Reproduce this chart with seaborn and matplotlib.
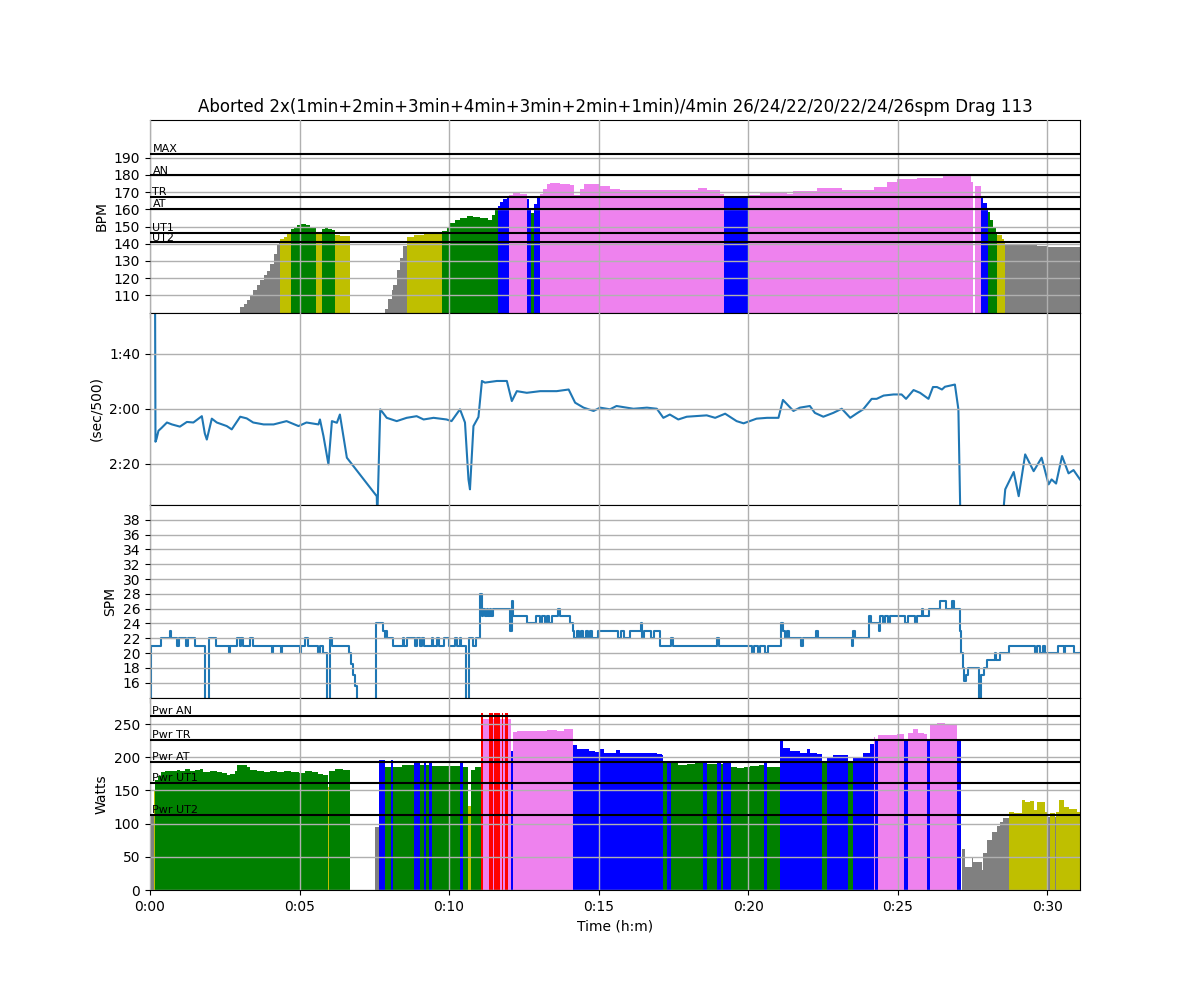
import numpy as np
import matplotlib
matplotlib.use('Agg')
import matplotlib.pyplot as plt
from matplotlib.ticker import FuncFormatter, MultipleLocator
import seaborn as sns

title = "Aborted 2x(1min+2min+3min+4min+3min+2min+1min)/4min 26/24/22/20/22/24/26spm Drag 113"
t_end = 1866

# zone thresholds
hr_zone_names = ['UT2', 'UT1', 'AT', 'TR', 'AN', 'MAX']
hr_zone_values = [141.0, 146.4, 160.3, 167.3, 180.0, 192.5]
pw_zone_names = ['Pwr UT2', 'Pwr UT1', 'Pwr AT', 'Pwr TR', 'Pwr AN']
pw_zone_values = [113.4, 161.7, 193.3, 226.4, 262.6]
zone_colors = ['gray', 'y', 'g', 'b', 'violet', 'r']

nan = float('nan')

# heart rate (time s, bpm)
hr_t = [0, 171, 180, 188, 194, 201, 207, 214, 221, 228, 234, 241, 248, 254, 258, 260, 268, 275,
        282, 288, 294, 301, 314, 321, 328, 333, 345, 352, 358, 365, 371, 381, 401,
        472, 478, 485, 488, 495, 501, 508, 515, 529, 549, 569, 585, 595, 602, 612, 622, 636,
        649, 662, 676, 679, 686, 692, 698, 702, 709, 716, 721, 729, 743, 756, 760, 764, 771,
        776, 783, 789, 796, 803, 823, 843, 850, 856, 862, 870, 897, 903, 923, 943, 963, 983,
        1003, 1064, 1100, 1117, 1144, 1152, 1199, 1224, 1278, 1291, 1338, 1388, 1452, 1478,
        1498, 1539, 1592, 1647, 1652, 1656, 1668, 1672, 1679, 1681, 1686, 1692, 1698, 1700,
        1709, 1714, 1716, 1733, 1779, 1799]
hr_v = [95, 100, 103, 105, 107, 110, 113, 116, 119, 122, 124, 128, 134, 139, 140.5, 142.5, 144, 145.5,
        148.5, 150, 151, 151.5, 151, 149.5, 149, 145.5, 148.5, 149, 148.5, 148, 145, 144.5, nan,
        102, 108, 113, 116, 125, 132, 138.5, 144, 145, 145.5, 145.5, 147.5, 150, 152, 154, 155, 156,
        155.5, 155, 155, 154, 157, 159.5, 162, 164.5, 166, 167, 168.5, 169.5, 169, 166, 161, 158, 163,
        166.5, 169, 172, 174.5, 175.5, 175, 174, 168.5, 168.3, 172, 174.8, 174.8, 173.5, 172, 171, 171.5, 171,
        171, 171, 172.2, 171, 168.9, 167, 168.5, 169.8, 169, 170.8, 172.2, 171.2, 173.3, 176,
        177.6, 178.5, 179.5, 176, nan, 173.5, 166.4, 163.5, 160.6, 158.7, 153.8, 150, 147, 145,
        143, 141.5, 139.8, 139.3, 138.7, 138.1]

# pace (time s, sec/500m)
pace_t = [10, 11, 13, 17, 23, 34, 44, 60, 74, 87, 104, 110, 114, 124, 134, 154, 164, 181, 194, 207,
          228, 248, 274, 298, 314, 338, 341, 348, 358, 365, 375, 381, 395, 455, 456, 462, 475, 495,
          515, 535, 549, 569, 595, 605, 622, 632, 639, 642, 649, 659, 666, 672, 696, 716, 726, 736,
          756, 783, 816, 840, 853, 870, 890, 903, 923, 936, 970, 997, 1017, 1030, 1043, 1060, 1077,
          1117, 1134, 1154, 1177, 1191, 1217, 1238, 1261, 1270, 1291, 1304, 1324, 1334, 1351, 1371,
          1388, 1405, 1418, 1431, 1448, 1458, 1472, 1492, 1508, 1517, 1532, 1545, 1562, 1571, 1579,
          1589, 1595, 1615, 1622, 1627, 1706, 1716, 1733, 1743, 1756, 1773, 1789, 1803, 1809, 1818,
          1830, 1843, 1853, 1866]
pace_v = [70, 132, 131, 128, 127, 125, 125.7, 126.5, 124.8, 125, 122.7, 129, 131.2, 123.6, 125, 126.3, 127.5, 122.9, 123.5, 125,
          125.7, 125.7, 124.5, 126.3, 125, 125.7, 123.9, 129.9, 140.2, 124.5, 125.1, 122.1, 137.8, 151.8, 160, 120.2, 123.3, 124.5,
          123.3, 122.7, 123.9, 123.3, 123.9, 124.5, 120.2, 125, 145.7, 149.3, 126.3, 123, 109.9, 110.5, 109.9, 109.9, 117.2, 113.6,
          114.2, 113.6, 113.6, 113, 117.8, 119.6, 120.8, 119.6, 120.2, 119, 120, 119.6, 120, 123.3, 122.1, 123.9, 122.9,
          122.4, 123.3, 121.8, 124.5, 125.3, 123.6, 123.3, 123.3, 116.8, 120.8, 119.6, 119, 121.5, 122.9, 121.5,
          120, 123.3, 121.7, 120.2, 116.4, 116.4, 115.2, 114.8, 114.8, 116.4, 113.2, 114.2, 116.4, 112.1, 112.1,
          113, 112, 111.2, 120.2, 170, 170, 149.3, 143, 151.8, 136.6, 142.7, 137.8, 147.5, 145.7, 147.2,
          137.2, 143.5, 142.3, 145.7]

# stroke rate (time s, spm)
spm_t = [0, 3, 23, 40, 43, 54, 59, 73, 77, 90, 111, 118, 132, 158, 160, 174, 180, 183, 186, 200, 206,
         244, 247, 262, 265, 300, 302, 311, 318, 338, 341, 348, 355, 361, 365, 395, 399, 403, 407, 411, 415,
         454, 467, 471, 473, 476, 487, 507, 510, 515, 532, 535, 542, 545, 549, 565, 568, 575, 580, 589,
         600, 612, 615, 621, 625, 634, 641, 648, 655, 663, 666, 669, 673, 676, 679, 682, 685, 688, 723,
         726, 729, 757, 775, 783, 786, 793, 796, 801, 806, 819, 822, 843, 848, 851, 856, 860, 865, 868,
         875, 879, 883, 887, 898, 940, 946, 951, 963, 986, 988, 991, 1006, 1012, 1023, 1046, 1050, 1137,
         1141, 1207, 1211, 1219, 1224, 1233, 1240, 1266, 1270, 1274, 1278, 1282, 1306, 1310, 1336, 1340,
         1408, 1410, 1414, 1443, 1446, 1462, 1465, 1470, 1474, 1480, 1485, 1515, 1520, 1534, 1538, 1548,
         1551, 1563, 1586, 1598, 1609, 1613, 1622, 1625, 1628, 1631, 1634, 1638, 1641, 1664, 1668, 1673,
         1679, 1696, 1698, 1705, 1724, 1775, 1779, 1785, 1792, 1796, 1821, 1833, 1836, 1854, 1866]
spm_v = [10, 21, 22, 23, 22, 21, 22, 21, 22, 21, 12, 22, 21, 20, 21, 22, 21, 22, 21, 22, 21,
         20, 21, 20, 21, 20, 21, 22, 21, 20, 21, 20, 12, 22, 21, 21, 20, 18.5, 17, 15.5, 12,
         24, 23, 22, 23, 22, 21, 22, 21, 22, 21, 22, 21, 22, 21, 22, 21, 22, 21, 22,
         21, 22, 21, 22, 21, 12, 22, 21, 22, 28, 25, 26, 25, 26, 25, 26, 25, 26, 23,
         27, 25, 24, 25, 24, 25, 24, 25, 24, 25, 26, 25, 24, 23, 22, 23, 22, 23, 22,
         23, 22, 23, 22, 23, 22, 23, 22, 23, 24, 22, 23, 22, 23, 21, 22, 21, 22,
         21, 20, 21, 20, 21, 20, 21, 24, 23, 22, 23, 22, 21, 22, 23, 22,
         21, 23, 22, 25, 24, 23, 25, 24, 25, 24, 25, 24, 25, 24, 25, 26,
         25, 26, 27, 26, 27, 26, 26, 23, 20, 18, 16.2, 17, 18, 12, 17, 18,
         19, 20, 19, 20, 21, 20, 21, 20, 21, 20, 21, 20, 21, 20, 20]

# power (time s, watts)
pw_t = [0, 8, 11, 17, 23, 30, 40, 54, 60, 70, 80, 90, 100, 107, 120, 134, 144, 154, 161, 171, 174,
        194, 201, 214, 228, 241, 254, 268, 282, 298, 311, 325, 338, 348, 358, 360, 371, 388, 401,
        452, 460, 472, 483, 488, 505, 529, 541, 550, 554, 559, 566, 599, 602, 622, 628, 639, 644, 653,
        664, 669, 681, 688, 690, 696, 697, 702, 706, 709, 713, 719, 724, 729, 736, 756, 776, 796, 816,
        830, 848, 856, 866, 880, 893, 903, 910, 936, 943, 963, 983, 1003, 1017, 1027, 1030, 1037, 1046,
        1060, 1077, 1094, 1110, 1117, 1137, 1145, 1149, 1165, 1177, 1191, 1204, 1221, 1231, 1238, 1264,
        1271, 1284, 1304, 1318, 1324, 1338, 1348, 1359, 1371, 1388, 1401, 1411, 1431, 1444, 1452, 1455,
        1460, 1480, 1498, 1512, 1520, 1530, 1540, 1552, 1559, 1565, 1580, 1595, 1620, 1627, 1629, 1636,
        1649, 1652, 1669, 1672, 1679, 1689, 1699, 1706, 1712, 1724, 1733, 1743, 1749, 1756, 1766, 1773,
        1779, 1796, 1799, 1805, 1816, 1818, 1823, 1833, 1843, 1860]
pw_v = [113, 150, 166, 172, 178, 179, 180, 181, 179, 182, 180, 181, 183, 178, 179, 178, 176, 174, 175.5, 179, 188,
        186, 181, 179, 178, 179, 178, 180, 178, 176, 180, 178, 175, 174, 155, 179, 182, 181, nan,
        95, 196, 186, 196, 186, 188, 195, 188, 195, 188, 195, 187, 195, 187, 195, 186, 126, 181, 185,
        266, 258, 267, 258, 267, 258, 266, 258, 266, 258, 266, 258, 210, 238, 240, 239, 240, 241, 240,
        243, 218, 213, 212, 210, 208, 212, 206, 211, 207, 206, 207, 206, 205, 203, 191, 194.5, 191,
        189, 190, 191, 195, 190, 195, 190, 195, 185, 184, 186, 187, 188, 195, 186, 224,
        214, 209, 207, 212, 206, 205, 191, 200, 203, 204, 191, 199, 206, 220, 230, 224,
        233, 234, 235, 224, 236, 243, 237, 235, 224, 250, 251, 250, 224, nan, 62, 35,
        50, 42, 30, 55, 75, 88, 97, 102, 108, 118, 116, 116, 135, 132, 134, 120,
        133, 118, 110, 116, 110, 118, 135, 125, 122, 118]


def zone_fill(ax, t, v, thresholds):
    t = np.append(np.asarray(t, float), t_end)
    v = np.asarray(v, float)
    thr = np.asarray(thresholds)
    idx = np.where(np.isnan(v), -1,
                   (np.nan_to_num(v)[:, None] > thr[None, :]).sum(axis=1))
    n = len(v)
    i = 0
    while i < n:
        j = i
        while j + 1 < n and idx[j + 1] == idx[i]:
            j += 1
        if idx[i] >= 0:
            xs = t[i:j + 2]
            ys = np.append(v[i:j + 1], v[j])
            ax.fill_between(xs, 0, ys, step='post', color=zone_colors[idx[i]],
                            linewidth=0, zorder=1)
        i = j + 1


def fmt_time(x, pos):
    h = int(x // 3600)
    m = int((x % 3600) // 60)
    return f"{h}:{m:02d}"


def fmt_pace(x, pos):
    m = int(x // 60)
    s = int(round(x % 60))
    return f"{m}:{s:02d}"


fig, axes = plt.subplots(4, 1, sharex=True, figsize=(12, 10), dpi=100)
fig.subplots_adjust(hspace=0)
ax1, ax2, ax3, ax4 = axes

# HR panel
zone_fill(ax1, hr_t, hr_v, hr_zone_values[:5])
for name, val in zip(hr_zone_names, hr_zone_values):
    ax1.axhline(val, color='k', lw=1.5, zorder=3)
    ax1.text(5, val + 0.8, name, fontsize=8, zorder=4)
ax1.set_ylim(100, 212)
ax1.set_yticks(list(range(110, 200, 10)))
ax1.set_ylabel('BPM')
ax1.set_title(title)

# pace panel
sns.lineplot(x=pace_t, y=pace_v, ax=ax2, color='#1f77b4', linewidth=1.5,
             estimator=None, sort=False)
ax2.set_ylim(155, 85)
ax2.set_yticks([100, 120, 140])
ax2.yaxis.set_major_formatter(FuncFormatter(fmt_pace))
ax2.set_ylabel('(sec/500)')

# SPM panel
sns.lineplot(x=spm_t, y=spm_v, ax=ax3, color='#1f77b4', linewidth=1.5,
             estimator=None, sort=False, drawstyle='steps-post')
ax3.set_ylim(14, 40)
ax3.set_yticks(list(range(16, 40, 2)))
ax3.set_ylabel('SPM')

# Power panel
zone_fill(ax4, pw_t, pw_v, pw_zone_values)
for name, val in zip(pw_zone_names, pw_zone_values):
    ax4.axhline(val, color='k', lw=1.5, zorder=3)
    ax4.text(5, val + 2, name, fontsize=8, zorder=4)
ax4.set_ylim(0, 290)
ax4.set_yticks(list(range(0, 300, 50)))
ax4.set_ylabel('Watts')
ax4.set_xlabel('Time (h:m)')

for ax in axes:
    ax.set_axisbelow(False)
    ax.grid(True, color='#b0b0b0', lw=1.0, zorder=2.5)
    ax.set_xlim(0, t_end)

ax4.xaxis.set_major_locator(MultipleLocator(300))
ax4.xaxis.set_major_formatter(FuncFormatter(fmt_time))

fig.savefig('out.png', dpi=100)
